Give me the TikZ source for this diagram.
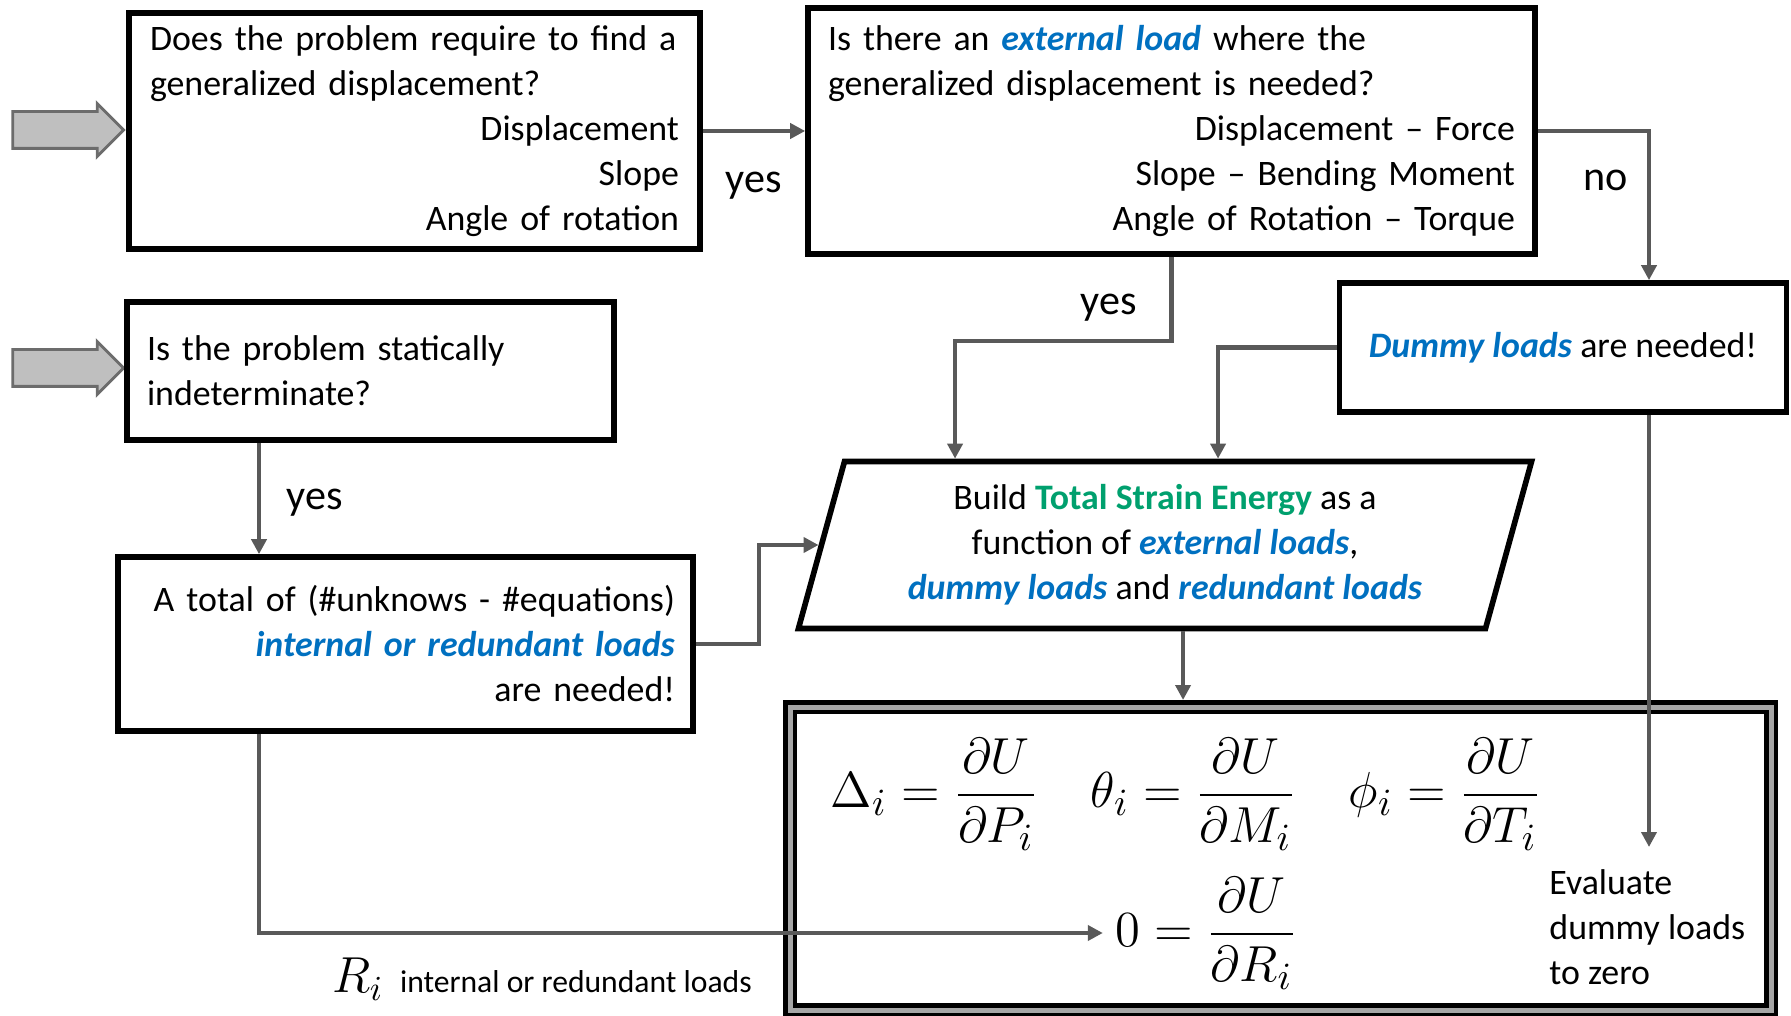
\documentclass[tikz,border=0pt]{standalone}
\usepackage{amsmath}
\usepackage{fontspec}
\setmainfont{Carlito}
\usepackage{xcolor}
\usetikzlibrary{shapes.arrows, shapes.geometric, arrows.meta, positioning}

\definecolor{loadblue}{HTML}{0070C0}
\definecolor{energygreen}{HTML}{00A06E}
\definecolor{linegray}{HTML}{595959}
\newcommand{\loadterm}[1]{\textcolor{loadblue}{\textbf{\textit{#1}}}}

\tikzset{
  qbox/.style={draw, line width=1.6pt, rectangle, inner sep=0pt, fill=white},
  conn/.style={draw=linegray, line width=1.2pt, -{Triangle[length=1.5mm,width=1.5mm]}},
  lbl/.style={font=\fontsize{12}{14}\selectfont},
  eqn/.style={font=\fontsize{15}{18}\selectfont},
  inarrow/.style={single arrow, draw=gray!85!black, fill=gray!50, line width=0.8pt,
    minimum height=11.1mm, minimum width=5mm, inner sep=1.7mm,
    single arrow head extend=0.8mm}
}

\begin{document}
\begin{tikzpicture}[x=0.1mm, y=-0.1mm, font=\fontsize{10.2}{12.8}\selectfont]
    \useasboundingbox (0,0) rectangle (1791,1016);

    % Entradas
    \foreach \y/\n in {130/A, 368/B} {
      \node[inarrow] (in\n) at (59,\y) {};
    }

    % Perguntas
    \node[qbox, minimum width=57.1mm, minimum height=23.6mm, text width=52.9mm, align=right] (find) at (414.5,131)
      {\makebox[52.9mm][l]{Does the problem require to find a}\\
       \makebox[52.9mm][l]{generalized displacement?}\\
       Displacement\\ Slope\\ Angle of rotation};
    \node[qbox, minimum width=72.7mm, minimum height=24.6mm, text width=68.7mm, align=right] (ext) at (1171.5,131)
      {\makebox[68.7mm][l]{Is there an \loadterm{external load} where the}\\
       \makebox[68.7mm][l]{generalized displacement is needed?}\\
       Displacement -- Force\\ Slope -- Bending Moment\\ Angle of Rotation -- Torque};
    \node[qbox, minimum width=48.7mm, minimum height=13.8mm, text width=44.7mm, align=left] (indet) at (370.5,371)
      {Is the problem statically\\ indeterminate?};
    \node[qbox, minimum width=44.7mm, minimum height=12.9mm] (dummy) at (1563,347.5)
      {\loadterm{Dummy loads} are needed!};
    \node[qbox, minimum width=57.5mm, minimum height=17.4mm, text width=53.9mm, align=right] (tot) at (405.5,644)
      {A total of (\#unknows - \#equations)\\ \loadterm{internal or redundant loads}\\ are needed!};

    % Energia
    \node[trapezium, trapezium left angle=75, trapezium right angle=105, trapezium stretches=true,
      draw, line width=1.6pt, fill=white, minimum width=73.4mm, minimum height=16.7mm, align=center] (build) at (1165,545)
      {Build \textcolor{energygreen}{\textbf{Total Strain Energy}} as a\\
       function of \loadterm{external loads},\\
       \loadterm{dummy loads} and \loadterm{redundant loads}};

    % Resultado
    \node[draw, line width=0.45mm, double=gray!70, double distance=0.5mm, outer sep=0.7mm,
      minimum width=98.1mm, minimum height=30.3mm] (res) at (1280.5,858.5) {};
    \node[eqn] (rates) at (1186,794)
      {$\Delta_i=\dfrac{\partial U}{\partial P_i}\quad\theta_i=\dfrac{\partial U}{\partial M_i}\quad\phi_i=\dfrac{\partial U}{\partial T_i}$};
    \node[eqn] (zero) at (1206,933) {$0=\dfrac{\partial U}{\partial R_i}$};
    \node[align=left, anchor=west] (eval) at (1537,927) {Evaluate\\ dummy loads\\ to zero};
    \node (rlab) at (542,979) {{\fontsize{14.4}{17}\selectfont$R_i$}\ \ {\fontsize{9}{11}\selectfont internal or redundant loads}};

    % Rotulos
    \node[lbl] (y1) at (754,186) {yes};
    \node[lbl] (n1) at (1606,180) {no};
    \node[lbl] (y2) at (1109,308) {yes};
    \node[lbl] (y3) at (315,503) {yes};

    % Ligacoes
    \coordinate (lane) at (259,0);
    \draw[conn] (find.east) -- (ext.west);
    \draw[conn] (ext.east) -| ([xshift=8.6mm]dummy.north);
    \draw[conn] (ext.south) -- ++(0,84) -| ([xshift=-21mm]build.north);
    \draw[conn] (dummy.west) -| ([xshift=5.3mm]build.north);
    \draw[conn, shorten >=1mm] ([xshift=8.6mm]dummy.south) -- ([xshift=8.6mm]dummy.south |- eval.north);
    \draw[conn] (indet.south -| lane) -- (tot.north -| lane);
    \draw[conn] (tot.east) -- ++(63,0) |- (build.west);
    \draw[conn] ([xshift=1.8mm]build.south) -- ([xshift=1.8mm]build.south |- res.north);
    \draw[conn] (tot.south -| lane) |- (zero.west);

\end{tikzpicture}
\end{document}
